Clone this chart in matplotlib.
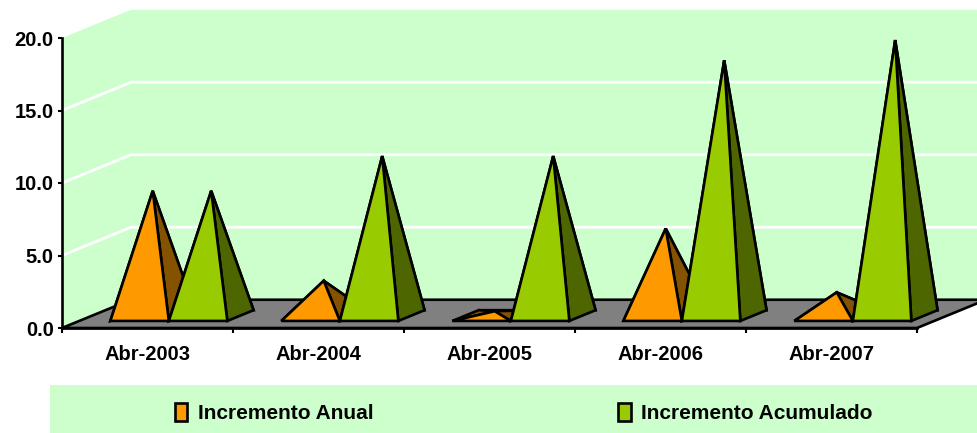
import matplotlib
matplotlib.use('Agg')
import matplotlib.pyplot as plt
from matplotlib.patches import Patch, Polygon, Rectangle

plt.rcParams['font.family'] = ['Liberation Sans', 'DejaVu Sans']
plt.rcParams['font.weight'] = 'bold'

categories = ['Abr-2003', 'Abr-2004', 'Abr-2005', 'Abr-2006', 'Abr-2007']
incremento_anual = [8.6, 2.4, 0.3, 6.0, 1.6]
incremento_acumulado = [8.6, 11.0, 11.0, 17.6, 19.0]
y_ticks = [0, 5, 10, 15, 20]

WALL = '#CCFFCC'
FLOOR = '#808080'
ORANGE, ORANGE_DARK = '#FF9900', '#855300'
GREEN, GREEN_DARK = '#99CC00', '#4D6600'

# fake 3D: one unit of depth moves this far in data coordinates
DEPTH_X = 69 / 171
DEPTH_Y = 1.95
BAR_W = 0.342
FRONT, BACK = 0.25, 0.63
SHIFT = 0.024

W, H = 977, 433


def project(x, y, d):
    return (x + d * DEPTH_X, y + d * DEPTH_Y)


def pyramid(ax, left, value, face, dark):
    right = left + BAR_W
    mid = left + BAR_W / 2
    fl = project(left, 0, FRONT)
    fr = project(right, 0, FRONT)
    bl = project(left, 0, BACK)
    br = project(right, 0, BACK)
    apex = project(mid, value, (FRONT + BACK) / 2)
    for pts, col in [((bl, br, apex), dark), ((fl, bl, apex), dark),
                     ((fr, br, apex), dark), ((fl, fr, apex), face)]:
        ax.add_patch(Polygon(pts, closed=True, facecolor=col, edgecolor='black',
                             linewidth=1.9, joinstyle='miter', clip_on=False, zorder=3))


fig = plt.figure(figsize=(W / 100, H / 100), dpi=100)
ax = fig.add_axes([62 / W, 1 - 328 / H, 855 / W, 290 / H])
ax.set_xlim(-0.5, 4.5)
ax.set_ylim(0, 20)
ax.patch.set_visible(False)

x0, x1 = ax.get_xlim()
wall = [project(x0, 0, 0), project(x0, 20, 0), project(x0, 20, 1),
        project(x1, 20, 1), project(x1, 0, 1), project(x0, 0, 1)]
ax.add_patch(Polygon(wall, closed=True, facecolor=WALL, edgecolor='none',
                     clip_on=False, zorder=1))
for v in y_ticks[1:-1]:
    pts = [project(x0, v, 0), project(x0, v, 1), project(x1, v, 1)]
    ax.plot(*zip(*pts), color='white', linewidth=2, clip_on=False, zorder=1.5)

floor = [project(x0, 0, 0), project(x0, 0, 1), project(x1, 0, 1), project(x1, 0, 0)]
ax.add_patch(Polygon(floor, closed=True, facecolor=FLOOR, edgecolor='black',
                     linewidth=1.9, clip_on=False, zorder=2))

for i in range(len(categories)):
    left = i + SHIFT - BAR_W
    pyramid(ax, left, incremento_anual[i], ORANGE, ORANGE_DARK)
    pyramid(ax, left + BAR_W, incremento_acumulado[i], GREEN, GREEN_DARK)

for side in ['top', 'right']:
    ax.spines[side].set_visible(False)
for side in ['left', 'bottom']:
    ax.spines[side].set_linewidth(1.9)
    ax.spines[side].set_zorder(4)

ax.set_yticks(y_ticks)
ax.set_yticklabels([f'{v:.1f}' for v in y_ticks], fontsize=14.5, fontweight='bold')
ax.tick_params(axis='y', length=3, width=1.5, pad=3)
ax.set_xticks([i - 0.5 for i in range(len(categories) + 1)])
ax.set_xticklabels([])
ax.set_xticks(range(len(categories)), labels=categories, minor=True,
              fontsize=14.5, fontweight='bold')
ax.tick_params(axis='x', which='major', length=3.5, width=1.5)
ax.tick_params(axis='x', which='minor', length=0, pad=12.5)

fig.add_artist(Rectangle((50 / W, 0), 927 / W, 48 / H, transform=fig.transFigure,
                         facecolor=WALL, edgecolor='none', zorder=0))
handles = [Patch(facecolor=ORANGE, edgecolor='black', linewidth=1.9),
           Patch(facecolor=GREEN, edgecolor='black', linewidth=1.9)]
fig.legend(handles, ['Incremento Anual', 'Incremento Acumulado'], ncol=2,
           loc='center left', bbox_to_anchor=(156 / W, 20 / H), frameon=False,
           fontsize=15, handlelength=0.6, handleheight=1.0, handletextpad=0.5,
           columnspacing=11.75)

fig.savefig('out.png', dpi=100)
